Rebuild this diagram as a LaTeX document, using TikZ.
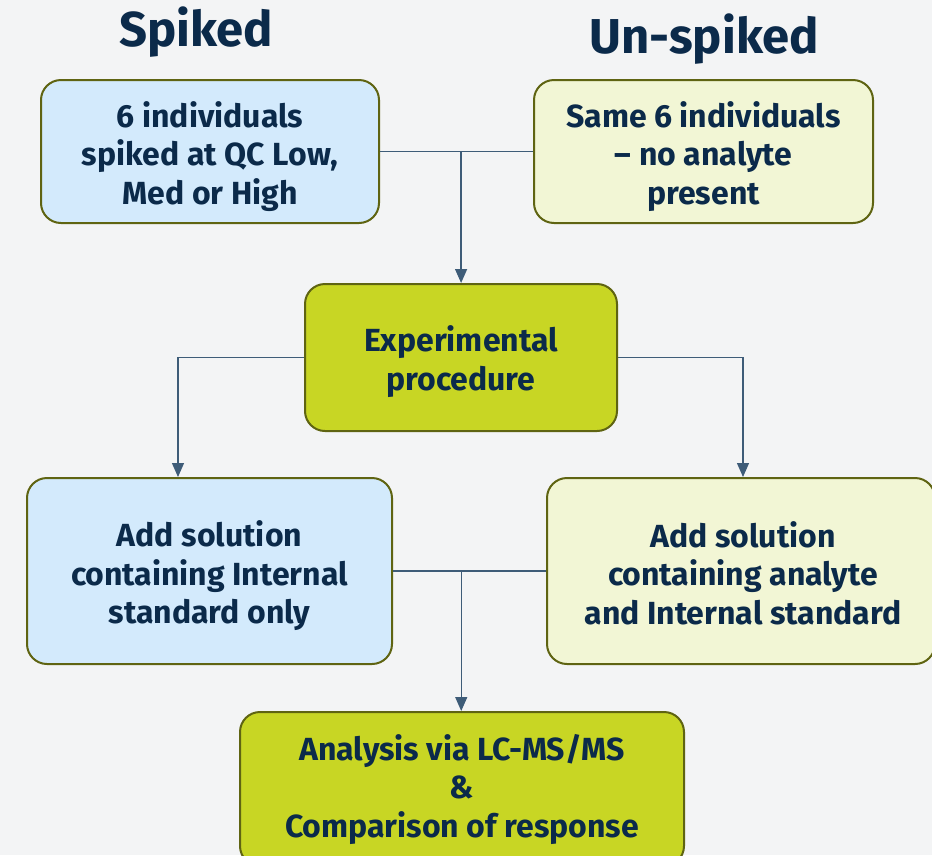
\documentclass[tikz,border=0pt]{standalone}
\usepackage{fontspec}
\setmainfont{Fira Sans}
\usepackage{tikz}
\usetikzlibrary{positioning, arrows.meta, calc}
\definecolor{bgGrey}{HTML}{F3F4F5}
\definecolor{inkNavy}{HTML}{0B2A4A}
\definecolor{edgeOlive}{HTML}{5F6412}
\definecolor{lineSteel}{HTML}{3E5C78}
\definecolor{spkBlue}{HTML}{D3EAFC}
\definecolor{unspkCream}{HTML}{F2F6D5}
\definecolor{procLime}{HTML}{C8D624}

\begin{document}
\begin{tikzpicture}[x=1pt, y=-1pt,
  font=\fontsize{32}{38.5}\selectfont\bfseries, text=inkNavy,
  stepbox/.style={draw=edgeOlive, line width=2pt, rounded corners=20pt,
      inner sep=0pt},
  steptext/.style={align=center, inner sep=0pt},
  heading/.style={font=\fontsize{49}{55}\selectfont\bfseries, text=inkNavy},
  link/.style={draw=lineSteel, line width=1.3pt},
  flow/.style={link, -{Triangle[width=12pt,length=14pt]}}]

\useasboundingbox[fill=bgGrey] (0,0) rectangle (932,855);

\node[heading] (spkhead) at (196,32) {Spiked};
\node[heading] (unspkhead) at (704,39) {Un-spiked};

\node[stepbox, fill=spkBlue, minimum width=338pt, minimum height=143pt]
  (spkin) at (210,151.5) {};
\node[steptext] (spkintext) at ([yshift=-5pt]spkin.center)
  {6 individuals\\spiked at QC Low,\\Med or High};

\node[stepbox, fill=unspkCream, minimum width=339pt, minimum height=143pt]
  (unspkin) at (703.5,151.5) {};
\node[steptext] (unspkintext) at ([yshift=-5pt]unspkin.center)
  {Same 6 individuals\\– no analyte\\present};

\node[stepbox, fill=procLime, minimum width=312pt, minimum height=147pt]
  (proc) at (461,357.5) {};
\node[steptext] (proctext) at ([yshift=-4pt]proc.center)
  {Experimental\\procedure};

\node[stepbox, fill=spkBlue, minimum width=365pt, minimum height=186pt]
  (spkadd) at (209.5,571) {};
\node[steptext] (spkaddtext) at ([yshift=-5pt]spkadd.center)
  {Add solution\\containing Internal\\standard only};

\node[stepbox, fill=unspkCream, minimum width=388pt, minimum height=186pt]
  (unspkadd) at (741,571) {};
\node[steptext] (unspkaddtext) at ([xshift=2pt, yshift=-2pt]unspkadd.center)
  {Add solution\\containing analyte\\and Internal standard};

\node[stepbox, fill=procLime, minimum width=444pt, minimum height=154pt]
  (analysis) at (462,789) {};
\node[steptext] (analysistext) at (analysis.center)
  {Analysis via LC-MS/MS\\\&\\Comparison of response};

% joins
\coordinate (topjoin) at ($(spkin.east)!0.53!(unspkin.west)$);
\coordinate (botjoin) at ($(spkadd.east)!0.446!(unspkadd.west)$);
\coordinate (leftturn) at (178,357.5);
\coordinate (rightturn) at (743,357.5);

\draw[link] (spkin.east) -- (unspkin.west);
\draw[flow] (topjoin) -- (topjoin |- proc.north);
\draw[flow] (proc.west) -- (leftturn) -- (leftturn |- spkadd.north);
\draw[flow] (proc.east) -- (rightturn) -- (rightturn |- unspkadd.north);
\draw[link] (spkadd.east) -- (unspkadd.west);
\draw[flow] (botjoin) -- (botjoin |- analysis.north);
\end{tikzpicture}
\end{document}
